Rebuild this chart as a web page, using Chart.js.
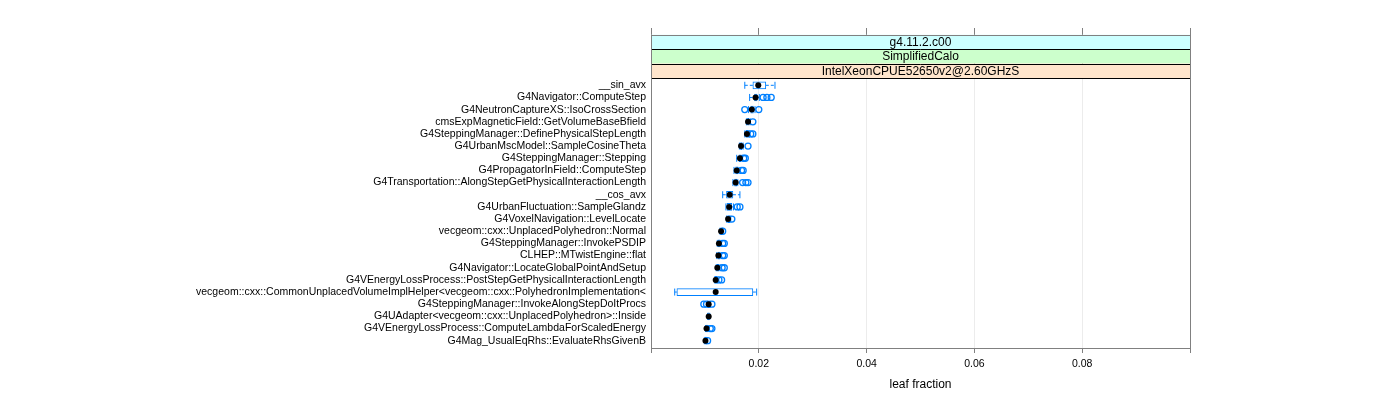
<!DOCTYPE html>
<html>
<head>
<meta charset="utf-8">
<script src="https://cdn.jsdelivr.net/npm/chart.js@4/dist/chart.umd.min.js"></script>
<style>
    html, body { margin: 0; padding: 0; background: #fff; }
    #wrap { width: 1400px; height: 400px; }
</style>
</head>
<body>
<div id="wrap"><canvas id="chart"></canvas></div>
<script>
const categories = [
    '__sin_avx',
    'G4Navigator::ComputeStep',
    'G4NeutronCaptureXS::IsoCrossSection',
    'cmsExpMagneticField::GetVolumeBaseBfield',
    'G4SteppingManager::DefinePhysicalStepLength',
    'G4UrbanMscModel::SampleCosineTheta',
    'G4SteppingManager::Stepping',
    'G4PropagatorInField::ComputeStep',
    'G4Transportation::AlongStepGetPhysicalInteractionLength',
    '__cos_avx',
    'G4UrbanFluctuation::SampleGlandz',
    'G4VoxelNavigation::LevelLocate',
    'vecgeom::cxx::UnplacedPolyhedron::Normal',
    'G4SteppingManager::InvokePSDIP',
    'CLHEP::MTwistEngine::flat',
    'G4Navigator::LocateGlobalPointAndSetup',
    'G4VEnergyLossProcess::PostStepGetPhysicalInteractionLength',
    'vecgeom::cxx::CommonUnplacedVolumeImplHelper<vecgeom::cxx::PolyhedronImplementation<',
    'G4SteppingManager::InvokeAlongStepDoItProcs',
    'G4UAdapter<vecgeom::cxx::UnplacedPolyhedron>::Inside',
    'G4VEnergyLossProcess::ComputeLambdaForScaledEnergy',
    'G4Mag_UsualEqRhs::EvaluateRhsGivenB'
];

// box-and-whisker stats per function (leaf fraction)
const whiskerLow  = [0.0174, 0.0183, 0.0181, 0.0177, 0.0174, 0.0164, 0.0159, 0.0154, 0.0152, 0.0133, 0.0139,
                     0.0140, 0.0128, 0.0123, 0.0122, 0.0121, 0.0118, 0.0044, 0.0105, 0.0105, 0.0101, 0.0099];
const q1          = [0.0189, 0.0192, 0.0185, 0.0179, 0.0176, 0.0166, 0.0163, 0.0157, 0.0155, 0.0140, 0.0141,
                     0.0142, 0.0129, 0.0125, 0.0124, 0.0122, 0.0119, 0.0048, 0.0106, 0.0106, 0.0102, 0.0100];
const medians     = [0.0199, 0.0194, 0.0187, 0.0180, 0.0178, 0.0167, 0.0165, 0.0159, 0.0157, 0.0146, 0.0145,
                     0.0143, 0.0130, 0.0126, 0.0125, 0.0123, 0.0120, 0.0120, 0.0107, 0.0107, 0.0103, 0.0101];
const q3          = [0.0213, 0.0197, 0.0190, 0.0182, 0.0181, 0.0169, 0.0167, 0.0161, 0.0159, 0.0152, 0.0150,
                     0.0146, 0.0132, 0.0128, 0.0128, 0.0126, 0.0122, 0.0189, 0.0109, 0.0108, 0.0105, 0.0103];
const whiskerHigh = [0.0230, 0.0201, 0.0193, 0.0184, 0.0183, 0.0171, 0.0169, 0.0163, 0.0161, 0.0165, 0.0153,
                     0.0148, 0.0133, 0.0130, 0.0130, 0.0128, 0.0124, 0.0196, 0.0110, 0.0109, 0.0107, 0.0104];
const outliers = [
    [],
    [0.0208, 0.0215, 0.0223],
    [0.0174, 0.0200],
    [0.0189],
    [0.0185, 0.0189],
    [0.0180],
    [0.0172, 0.0175],
    [0.0168, 0.0171],
    [0.0170, 0.0176, 0.0180],
    [],
    [0.0160, 0.0165],
    [0.0150],
    [0.0133],
    [0.0133, 0.0136],
    [0.0133, 0.0136],
    [0.0132, 0.0136],
    [0.0126, 0.0131],
    [],
    [0.0098, 0.0103, 0.0113],
    [],
    [0.0110, 0.0113],
    [0.0105]
];
const xTicks = [0, 0.02, 0.04, 0.06, 0.08, 0.1];
const strips = ['g4.11.2.c00', 'SimplifiedCalo', 'IntelXeonCPUE52650v2@2.60GHzS'];
const stripColors = ['#ccffff', '#ccffcc', '#ffe5cc'];

const BLUE = '#0080ff';
const FRAME = '#808080';
const STRIP_H = 14.4;

Chart.defaults.font.family = '"Liberation Sans", Arial, sans-serif';
Chart.defaults.color = '#000';

const boxData = categories.map((c, i) => ({ y: i + 1, x: [q1[i], q3[i]] }));
const whiskerData = [];
const capData = [];
categories.forEach((c, i) => {
    whiskerData.push({ x: whiskerLow[i], y: i + 1 }, { x: q1[i], y: i + 1 }, { x: null, y: i + 1 });
    whiskerData.push({ x: q3[i], y: i + 1 }, { x: whiskerHigh[i], y: i + 1 }, { x: null, y: i + 1 });
    capData.push({ x: whiskerLow[i], y: i + 1 }, { x: whiskerHigh[i], y: i + 1 });
});
const medianData = medians.map((v, i) => ({ x: v, y: i + 1 }));
const outlierData = [];
outliers.forEach((arr, i) => arr.forEach(v => outlierData.push({ x: v, y: i + 1 })));

const stripPlugin = {
    id: 'strips',
    afterDraw(chart) {
        const { ctx, chartArea } = chart;
        const { left, right, top, bottom } = chartArea;
        const stripTop = top - STRIP_H * strips.length;
        ctx.save();
        strips.forEach((s, k) => {
            const y = stripTop + k * STRIP_H;
            ctx.fillStyle = stripColors[k];
            ctx.fillRect(left, y, right - left, STRIP_H);
            ctx.strokeStyle = k === 0 ? FRAME : '#000';
            ctx.lineWidth = 1;
            ctx.beginPath();
            ctx.moveTo(left, Math.round(y) + 0.5);
            ctx.lineTo(right, Math.round(y) + 0.5);
            ctx.stroke();
            ctx.fillStyle = '#000';
            ctx.font = '12px "Liberation Sans", Arial, sans-serif';
            ctx.textAlign = 'center';
            ctx.textBaseline = 'middle';
            ctx.fillText(s, (left + right) / 2, y + STRIP_H / 2 + 0.5);
        });
        ctx.strokeStyle = '#000';
        ctx.beginPath();
        ctx.moveTo(left, Math.round(top) + 0.5);
        ctx.lineTo(right, Math.round(top) + 0.5);
        ctx.stroke();
        ctx.strokeStyle = FRAME;
        ctx.strokeRect(Math.round(left) + 0.5, Math.round(stripTop) + 0.5,
            Math.round(right - left), Math.round(bottom - stripTop));
        ctx.restore();
    }
};

new Chart(document.getElementById('chart'), {
    type: 'bar',
    data: {
        datasets: [
            {
                type: 'scatter',
                data: medianData,
                xAxisID: 'x',
                yAxisID: 'y',
                pointRadius: 3,
                pointBackgroundColor: '#000',
                pointBorderWidth: 0
            },
            {
                type: 'scatter',
                data: outlierData,
                xAxisID: 'x',
                yAxisID: 'y',
                pointRadius: 3,
                pointBorderColor: BLUE,
                pointBackgroundColor: 'rgba(0,0,0,0)',
                pointBorderWidth: 1.3
            },
            {
                type: 'bar',
                indexAxis: 'y',
                data: boxData,
                xAxisID: 'x',
                yAxisID: 'y',
                barThickness: 7,
                backgroundColor: '#fff',
                borderColor: BLUE,
                borderWidth: 1,
                borderSkipped: false
            },
            {
                type: 'scatter',
                data: capData,
                xAxisID: 'x',
                yAxisID: 'y',
                pointStyle: 'line',
                rotation: 90,
                pointRadius: 3.5,
                pointBorderColor: BLUE,
                pointBorderWidth: 1
            },
            {
                type: 'scatter',
                data: whiskerData,
                xAxisID: 'x',
                yAxisID: 'y',
                showLine: true,
                spanGaps: false,
                pointRadius: 0,
                borderColor: BLUE,
                borderWidth: 1,
                borderDash: [3, 2]
            }
        ]
    },
    options: {
        responsive: true,
        maintainAspectRatio: false,
        animation: false,
        events: [],
        layout: { padding: { left: 0, right: 210, top: 28, bottom: 6 } },
        plugins: {
            legend: { display: false },
            tooltip: { enabled: false }
        },
        scales: {
            x: {
                type: 'linear',
                position: 'bottom',
                offset: false,
                min: 0,
                max: 0.1,
                afterBuildTicks: (scale) => { scale.ticks = xTicks.map(v => ({ value: v })); },
                afterFit: (scale) => { scale.height = 46; },
                ticks: {
                    font: { size: 10.5 },
                    padding: 5,
                    autoSkip: false,
                    maxRotation: 0,
                    callback: (v) => (v > 0.001 && v < 0.099) ? v.toFixed(2) : ''
                },
                grid: { offset: false, color: '#ececec', tickColor: FRAME, tickLength: 5 },
                border: { display: false },
                title: {
                    display: true,
                    text: 'leaf fraction',
                    font: { size: 12 },
                    padding: { top: 6, bottom: 2 }
                }
            },
            xTop: {
                type: 'linear',
                axis: 'x',
                position: 'top',
                offset: false,
                min: 0,
                max: 0.1,
                afterBuildTicks: (scale) => { scale.ticks = xTicks.map(v => ({ value: v })); },
                ticks: { display: false },
                grid: { offset: false, drawOnChartArea: false, color: FRAME, tickLength: 50 },
                border: { display: false }
            },
            y: {
                type: 'linear',
                position: 'left',
                offset: false,
                reverse: true,
                min: 0.4,
                max: 22.6,
                afterBuildTicks: (scale) => { scale.ticks = categories.map((c, i) => ({ value: i + 1 })); },
                afterFit: (scale) => { scale.width = 651; },
                ticks: {
                    font: { size: 10.5 },
                    padding: 5,
                    autoSkip: false,
                    callback: (v) => categories[Math.round(v) - 1]
                },
                grid: { offset: false, display: false, drawTicks: false },
                border: { display: false }
            }
        }
    },
    plugins: [stripPlugin]
});
</script>
</body>
</html>
